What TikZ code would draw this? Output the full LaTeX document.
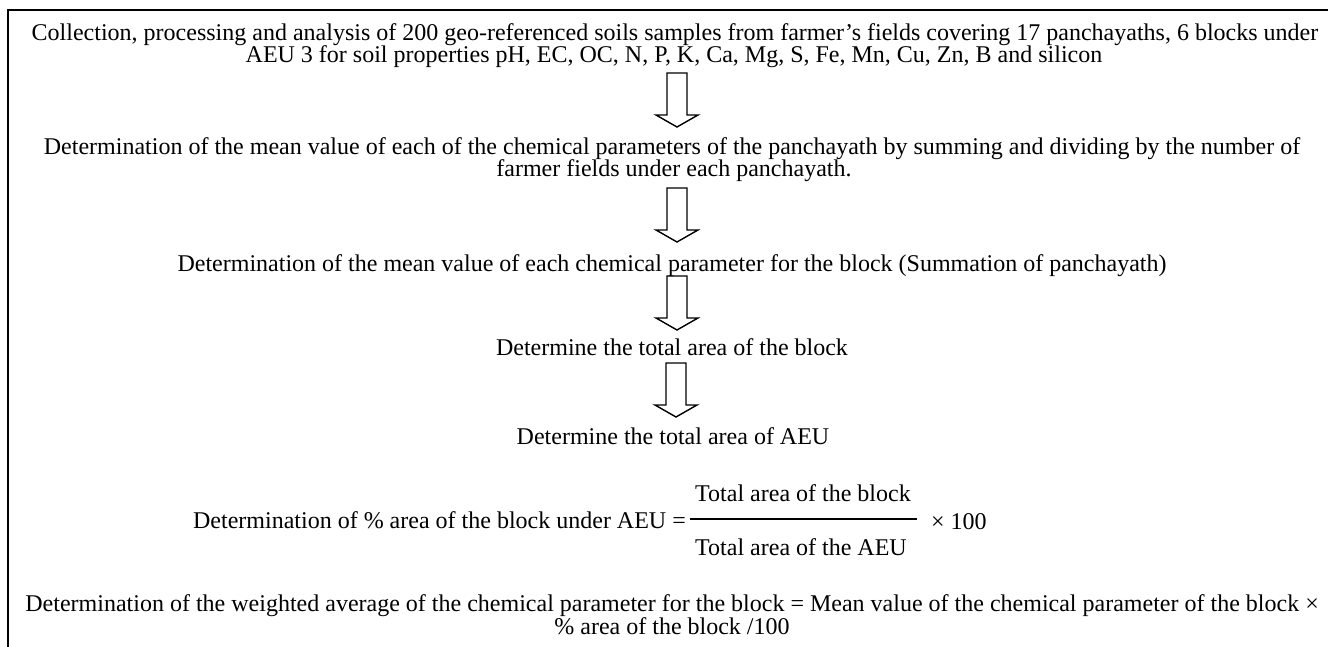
\documentclass[tikz,border=0pt]{standalone}
\usepackage{fontspec}
\setmainfont{Liberation Serif}
\usetikzlibrary{calc}
\begin{document}
\begin{tikzpicture}[x=1pt,y=-1pt,
  txt/.style={inner sep=0pt, anchor=base, font=\fontsize{24}{26}\selectfont},
  frame/.style={line width=2pt, line cap=rect},
  fracbar/.style={line width=1.8pt},
  hollow/.style={draw=black, line width=1.4pt, line join=miter,
    to path={let \p1=(\tikztostart), \p2=(\tikztotarget) in
      (\x1-10pt,\y1) -- (\x1+10pt,\y1) -- (\x1+10pt,\y2+12pt) -- (\x1+21pt,\y2+12pt)
      -- (\x1,\y2) -- (\x1-21pt,\y2+12pt) -- (\x1-10pt,\y2+12pt) -- cycle}}]
\useasboundingbox (0,0) rectangle (1328,646);
% frame
\draw[frame] (7.5,646) -- (7.5,10) -- (1328,10);
% texts
\node[txt] (l1a) at (675,40) {Collection, processing and analysis of 200 geo-referenced soils samples from farmer’s fields covering 17 panchayaths, 6 blocks under};
\node[txt] (l1b) at (674,62) {AEU 3 for soil properties pH, EC, OC, N, P, K, Ca, Mg, S, Fe, Mn, Cu, Zn, B and silicon};
\node[txt] (l2a) at (672,154) {Determination of the mean value of each of the chemical parameters of the panchayath by summing and dividing by the number of};
\node[txt] (l2b) at (674,176) {farmer fields under each panchayath.};
\node[txt] (l3) at (672,271) {Determination of the mean value of each chemical parameter for the block (Summation of panchayath)};
\node[txt] (l4) at (672,355) {Determine the total area of the block};
\node[txt] (l5) at (673,444) {Determine the total area of AEU};
\node[txt, anchor=base east] (l6) at (686,528) {Determination of \% area of the block under AEU =};
\node[txt] (num) at (803,501) {Total area of the block};
\node[txt] (den) at (801,555) {Total area of the AEU};
\node[txt, anchor=base west] (times) at (931,529) {× 100};
\node[txt] (l7a) at (672,611) {Determination of the weighted average of the chemical parameter for the block = Mean value of the chemical parameter of the block ×};
\node[txt] (l7b) at (672,634) {\% area of the block /100};
% fraction bar
\coordinate (fbL) at (690,519);
\coordinate (fbR) at (917,519);
\draw[fracbar] (fbL) -- (fbR);
% hollow arrows
\coordinate (a1s) at (677,73);  \coordinate (a1e) at (677,127);
\coordinate (a2s) at (677,188); \coordinate (a2e) at (677,242);
\coordinate (a3s) at (677,276); \coordinate (a3e) at (677,330);
\coordinate (a4s) at (676,363); \coordinate (a4e) at (676,417);
\draw[hollow] (a1s) to (a1e);
\draw[hollow] (a2s) to (a2e);
\draw[hollow] (a3s) to (a3e);
\draw[hollow] (a4s) to (a4e);
\end{tikzpicture}
\end{document}
